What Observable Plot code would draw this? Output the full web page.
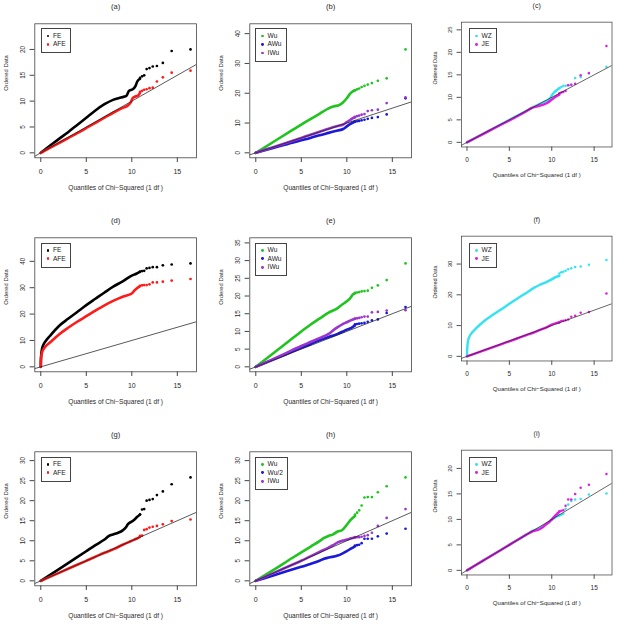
<!DOCTYPE html>
<html><head><meta charset="utf-8">
<script src="https://cdn.jsdelivr.net/npm/d3@7"></script>
<script src="https://cdn.jsdelivr.net/npm/@observablehq/plot@0.6"></script>
<style>
body{margin:0;background:#fff;}
#wrap{position:relative;width:628px;height:624px;overflow:hidden;background:#fff;font-family:"Liberation Sans",Arial,sans-serif;}
.cell{position:absolute;}
.legend{position:absolute;border:1px solid #444;background:#fff;font-size:6.6px;color:#222;padding:2.6px 4px 3.6px 3px;line-height:8.4px;}
.legend .row{display:flex;align-items:center;white-space:nowrap;}
.legend .dot{width:2.8px;height:2.8px;border-radius:50%;margin:0 3.6px 0 2px;}
</style></head><body><div id="wrap"></div>
<script>
// ---------- data ----------
const X_TICKS = [0, 5, 10, 15];
const X_TAIL = [16.45, 14.38, 13.41, 12.76, 12.30, 11.94, 11.63, 11.36, 11.13, 10.90];
const X_LABEL = "Quantiles of Chi\u2212Squared (1 df )";
const Y_LABEL = "Ordered Data";

// (a)
const a_FE = [[0,0],[1,1.35],[2,2.7],[3,4.0],[4,5.4],[5,6.8],[6,8.2],[7,9.4],[8,10.3],[8.8,10.7],[9.4,11.0],[9.7,12.0],[10.1,12.3],[10.4,12.9],[10.6,13.8],[10.9,14.3]];
const a_FE_tail = [20.0,19.7,17.4,16.8,16.7,16.4,16.2,15.0,14.8,14.5];
const a_AFE = [[0,0],[1,0.95],[2,1.9],[3,2.85],[4,3.8],[5,4.8],[6,5.8],[7,6.8],[8,7.8],[9,8.7],[9.6,9.2],[9.9,9.8],[10.1,10.6],[10.4,10.9],[10.7,11.1],[10.9,11.6]];
const a_AFE_tail = [15.9,15.5,14.6,13.8,12.6,12.5,12.3,12.2,12.0,11.8];
// (b)
const b_Wu = [[0,0],[2,3.8],[4,7.6],[5,9.5],[6,11.3],[7,13.1],[8,14.9],[8.6,15.6],[9.2,16.1],[9.6,17.0],[10.0,18.3],[10.3,19.6],[10.6,20.5],[10.9,21.0]];
const b_Wu_tail = [34.7,25.0,24.2,23.4,22.9,22.5,22.1,21.6,21.3,21.0];
const b_AWu = [[0,0],[2,1.7],[4,3.4],[5,4.2],[6,5.0],[7,5.9],[8,6.7],[9,7.5],[9.6,8.0],[10,8.9],[10.4,9.7],[10.7,10.2],[10.9,10.4]];
const b_AWu_tail = [18.3,12.9,12.0,11.7,11.4,11.1,10.9,10.7,10.6,10.5];
const b_IWu = [[0,0],[2,2.0],[4,4.0],[5,5.0],[6,6.1],[7,7.1],[8,8.1],[9,9.0],[9.6,9.5],[10,10.3],[10.4,11.1],[10.7,11.7],[10.9,11.9]];
const b_IWu_tail = [18.6,16.7,14.5,14.3,14.0,13.0,12.8,12.5,12.3,12.1];
// (c)
const c_WZ = [[0,0],[2,2.0],[4,4.0],[5,5.0],[6,6.0],[7,7.0],[8,8.0],[9,8.9],[9.8,9.8],[10.1,10.7],[10.4,11.3],[10.9,12.0]];
const c_WZ_tail = [16.8,15.3,14.5,14.3,12.8,12.7,12.6,12.5,12.3,12.1];
const c_JE = [[0,0],[2,1.95],[4,3.9],[5,4.85],[6,5.85],[7,6.9],[7.6,7.6],[8.3,8.0],[9,8.4],[9.5,8.8],[10,9.5],[10.4,10.1],[10.9,10.6]];
const c_JE_tail = [21.4,15.4,14.9,13.0,12.8,12.7,11.4,11.2,11.1,10.9];
// (d)
const d_FE = [[0,0],[0.005,1.5],[0.02,3],[0.06,5],[0.15,7],[0.3,8.5],[0.5,9.6],[1,11.7],[2,15.5],[3,18.2],[4,20.8],[5,23.4],[6,25.8],[7,28.2],[8,30.5],[9,32.4],[10,34.6],[10.5,35.3],[10.9,36.0]];
const d_FE_tail = [39.2,38.8,38.5,37.8,37.8,37.5,37.3,36.4,36.3,36.1];
const d_AFE = [[0,0],[0.01,2],[0.05,4],[0.15,5.6],[0.4,7.2],[1,9.2],[2,12.3],[3,14.8],[4,17.1],[5,19.2],[6,21.3],[7,23.3],[8,25.1],[9,26.6],[10,27.8],[10.3,29.0],[10.9,30.6]];
const d_AFE_tail = [33.3,32.7,32.3,32.0,32.0,31.3,31.0,31.0,30.9,30.7];
// (e)
const e_Wu = [[0,0],[2,4.0],[4,8.0],[5,10.0],[6,11.9],[7,13.6],[8,15.3],[9,16.6],[9.5,17.6],[10,18.5],[10.4,19.5],[10.7,20.5],[10.9,20.8]];
const e_Wu_tail = [29.2,24.5,23.0,22.3,21.5,21.4,21.3,21.1,21.0,20.9];
const e_AWu = [[0,0],[2,2.1],[4,4.3],[5,5.4],[6,6.4],[7,7.5],[8,8.4],[9,9.3],[9.5,9.9],[10,10.5],[10.5,11.0],[10.9,11.7]];
const e_AWu_tail = [16.9,15.2,13.4,13.1,12.7,12.4,12.3,12.2,12.1,12.0];
const e_IWu = [[0,0],[2,2.3],[4,4.7],[5,5.9],[6,7.0],[7,8.1],[8,9.3],[8.5,10.3],[9,11.2],[9.5,12.0],[10,12.6],[10.5,13.2],[10.9,13.6]];
const e_IWu_tail = [16.0,15.9,15.5,15.4,14.2,14.2,14.0,13.8,13.7,13.6];
// (f)
const f_WZ = [[0,0],[0.01,1.5],[0.04,3],[0.1,4.8],[0.3,6.5],[0.5,7.4],[1,8.9],[2,11.4],[3,13.4],[4,15.2],[5,17.1],[6,18.9],[7,20.6],[8,22.4],[8.5,23.1],[9,23.7],[10,25.0],[10.5,25.8],[10.9,26.2]];
const f_WZ_tail = [31.3,29.8,29.2,29.0,28.6,28.3,27.8,27.5,27.3,26.9];
const f_JE = [[0,0],[2,1.95],[4,3.9],[5,4.9],[6,5.9],[7,6.9],[8,7.9],[9,9.0],[9.5,9.6],[10,10.3],[10.5,10.8],[10.9,11.0]];
const f_JE_tail = [20.4,14.4,14.2,13.2,12.9,12.0,11.7,11.6,11.5,11.2];
// (g)
const g_FE = [[0,0],[2,2.9],[4,5.9],[5,7.4],[6,8.9],[7,10.3],[7.5,11.2],[8,11.6],[8.5,12.0],[9,12.6],[9.3,13.2],[9.6,14.2],[10,14.8],[10.3,15.3],[10.6,16.0],[10.9,16.5]];
const g_FE_tail = [25.8,24.1,22.3,21.4,20.4,20.2,20.0,17.9,17.8,16.6];
const g_AFE = [[0,0],[2,2.0],[4,4.0],[5,5.0],[6,6.0],[7,7.0],[8,7.9],[9,9.0],[10,10.0],[10.5,10.5],[10.9,11.0]];
const g_AFE_tail = [15.3,14.9,14.1,13.7,13.5,13.3,12.9,12.7,11.3,11.2];
// (h)
const h_Wu = [[0,0],[2,2.8],[4,5.7],[5,7.1],[6,8.5],[7,9.9],[7.5,10.7],[8,11.2],[8.5,11.6],[9,12.3],[9.5,12.7],[10,14.0],[10.5,15.4],[10.9,16.2]];
const h_Wu_tail = [25.8,23.6,22.1,20.9,20.9,20.8,18.8,17.6,17.0,16.5];
const h_Wu2 = [[0,0],[2,1.4],[4,2.8],[5,3.5],[6,4.2],[7,5.0],[7.5,5.5],[8,5.8],[9,6.3],[9.5,6.8],[10,7.4],[10.5,8.1],[10.9,8.6]];
const h_Wu2_tail = [13.0,11.8,11.1,10.5,10.5,10.5,9.4,9.0,8.9,8.8];
const h_IWu = [[0,0],[2,2.0],[4,4.0],[5,5.0],[6,6.1],[7,7.2],[8,8.3],[8.5,8.9],[9,9.6],[9.5,10.0],[10,10.3],[10.5,10.6],[10.9,10.9]];
const h_IWu_tail = [17.9,15.7,13.7,12.0,11.4,11.2,11.0,10.9,10.9,10.8];
// (i)
const i_WZ = [[0,0],[2,2.0],[4,4.0],[5,5.0],[6,6.0],[7,7.0],[7.8,7.8],[8.3,8.1],[9,8.7],[9.5,9.2],[10,9.9],[10.5,10.5],[10.9,10.8]];
const i_WZ_tail = [15.1,14.9,14.0,13.9,13.6,12.9,12.1,11.1,10.9,10.8];
const i_JE = [[0,0],[2,2.0],[4,4.0],[5,5.0],[6,6.0],[7,7.0],[7.8,7.7],[8.3,7.9],[8.8,8.3],[9.3,9.0],[9.7,9.5],[10,10.0],[10.5,10.9],[10.9,11.5]];
const i_JE_tail = [18.9,16.8,16.2,15.0,13.9,13.9,12.7,11.8,11.7,11.6];

const Y_TICKS = {
  a:[0,5,10,15,20], b:[0,10,20,30,40], c:[0,5,10,15,20,25],
  d:[0,10,20,30,40], e:[0,5,10,15,20,25,30,35], f:[0,10,20,30],
  g:[0,5,10,15,20,25,30], h:[0,5,10,15,20,25,30], i:[0,5,10,15,20]
};

const COL = {black:"#000000", red:"#ff1a1a", green:"#1fc41f", blue:"#1a1ad6", purple:"#9a35cf", cyan:"#35e3f0", magenta:"#e01ee0"};

const PANELS = [
  {id:"a", series:[{name:"FE",c:COL.black,d:a_FE,t:a_FE_tail},{name:"AFE",c:COL.red,d:a_AFE,t:a_AFE_tail}]},
  {id:"b", series:[{name:"Wu",c:COL.green,d:b_Wu,t:b_Wu_tail},{name:"AWu",c:COL.blue,d:b_AWu,t:b_AWu_tail},{name:"IWu",c:COL.purple,d:b_IWu,t:b_IWu_tail}]},
  {id:"c", series:[{name:"WZ",c:COL.cyan,d:c_WZ,t:c_WZ_tail},{name:"JE",c:COL.magenta,d:c_JE,t:c_JE_tail}]},
  {id:"d", series:[{name:"FE",c:COL.black,d:d_FE,t:d_FE_tail},{name:"AFE",c:COL.red,d:d_AFE,t:d_AFE_tail}]},
  {id:"e", series:[{name:"Wu",c:COL.green,d:e_Wu,t:e_Wu_tail},{name:"AWu",c:COL.blue,d:e_AWu,t:e_AWu_tail},{name:"IWu",c:COL.purple,d:e_IWu,t:e_IWu_tail}]},
  {id:"f", series:[{name:"WZ",c:COL.cyan,d:f_WZ,t:f_WZ_tail},{name:"JE",c:COL.magenta,d:f_JE,t:f_JE_tail}]},
  {id:"g", series:[{name:"FE",c:COL.black,d:g_FE,t:g_FE_tail},{name:"AFE",c:COL.red,d:g_AFE,t:g_AFE_tail}]},
  {id:"h", series:[{name:"Wu",c:COL.green,d:h_Wu,t:h_Wu_tail},{name:"Wu/2",c:COL.blue,d:h_Wu2,t:h_Wu2_tail},{name:"IWu",c:COL.purple,d:h_IWu,t:h_IWu_tail}]},
  {id:"i", series:[{name:"WZ",c:COL.cyan,d:i_WZ,t:i_WZ_tail},{name:"JE",c:COL.magenta,d:i_JE,t:i_JE_tail}]}
];

// ---------- layout ----------
const W = 214, H = 214;
const M = {left:34.3, right:18, top:23.3, bottom:56.7};
const COL_X = [0, 214.7, 428.7];
const ROW_Y = [0, 214.4, 428.4];
const XDOM = [-0.04*16.45, 1.04*16.45];
const FONT = "'Liberation Sans', Arial, Helvetica, sans-serif";
const TXT = "#2a2a2a";

const wrap = document.getElementById("wrap");

PANELS.forEach((p, idx) => {
  const col = idx % 3, row = Math.floor(idx / 3);
  const ymax = d3.max(p.series.flatMap(s => [...s.d.map(v => v[1]), ...s.t]));
  const ydom = [-0.048*ymax, 1.248*ymax];
  const marks = [];
  for (const s of p.series) {
    marks.push(Plot.line(s.d, {x: v => v[0], y: v => v[1], stroke: s.c, strokeWidth: 2.6, curve: "monotone-x", strokeLinecap: "round"}));
    marks.push(Plot.dot(s.t.map((y, k) => [X_TAIL[k], y]), {x: v => v[0], y: v => v[1], r: 1.35, fill: s.c, stroke: "none"}));
  }
  marks.push(Plot.line([[XDOM[0], XDOM[0]], [XDOM[1], XDOM[1]]], {x: v => v[0], y: v => v[1], stroke: "#222", strokeWidth: 0.75, clip: true}));
  marks.push(Plot.frame({stroke: "#444", strokeWidth: 0.8}));
  marks.push(Plot.axisX({ticks: X_TICKS, tickSize: 4.7, tickPadding: 6.3, fontSize: 7, stroke: "#444", fill: TXT, label: null, tickFormat: d => String(d)}));
  marks.push(Plot.axisY({ticks: Y_TICKS[p.id], tickSize: 4.7, stroke: "#444", label: null, tickFormat: () => ""}));
  marks.push(Plot.text(Y_TICKS[p.id], {y: d => d, text: d => String(d), frameAnchor: "left", dx: -11.6, rotate: -90, fontSize: 6.3, fill: TXT, textAnchor: "middle", lineAnchor: "middle"}));
  marks.push(Plot.text([`(${p.id})`], {text: d => d, frameAnchor: "top", dy: -17.3, fontSize: 7.6, fill: TXT, lineAnchor: "middle"}));
  marks.push(Plot.text([X_LABEL], {text: d => d, frameAnchor: "bottom", dy: 30, fontSize: 6.6, fill: TXT, lineAnchor: "middle"}));
  marks.push(Plot.text([Y_LABEL], {text: d => d, frameAnchor: "left", dx: -28.3, rotate: -90, fontSize: 5.9, fill: TXT, lineAnchor: "middle"}));

  const svg = Plot.plot({
    width: W, height: H,
    marginLeft: M.left, marginRight: M.right, marginTop: M.top, marginBottom: M.bottom,
    x: {domain: XDOM},
    y: {domain: ydom},
    style: {fontFamily: FONT, background: "transparent", overflow: "visible"},
    marks
  });
  const cell = document.createElement("div");
  cell.className = "cell";
  cell.style.left = COL_X[col] + "px";
  cell.style.top = ROW_Y[row] + "px";
  cell.appendChild(svg);
  wrap.appendChild(cell);

  const lg = document.createElement("div");
  lg.className = "legend";
  lg.style.left = (COL_X[col] + M.left + 6.2) + "px";
  lg.style.top = (ROW_Y[row] + M.top + 5) + "px";
  for (const s of p.series) {
    const r = document.createElement("div");
    r.className = "row";
    const dot = document.createElement("span");
    dot.className = "dot";
    dot.style.background = s.c;
    const t = document.createElement("span");
    t.textContent = s.name;
    r.appendChild(dot); r.appendChild(t);
    lg.appendChild(r);
  }
  wrap.appendChild(lg);
});
</script></body></html>
